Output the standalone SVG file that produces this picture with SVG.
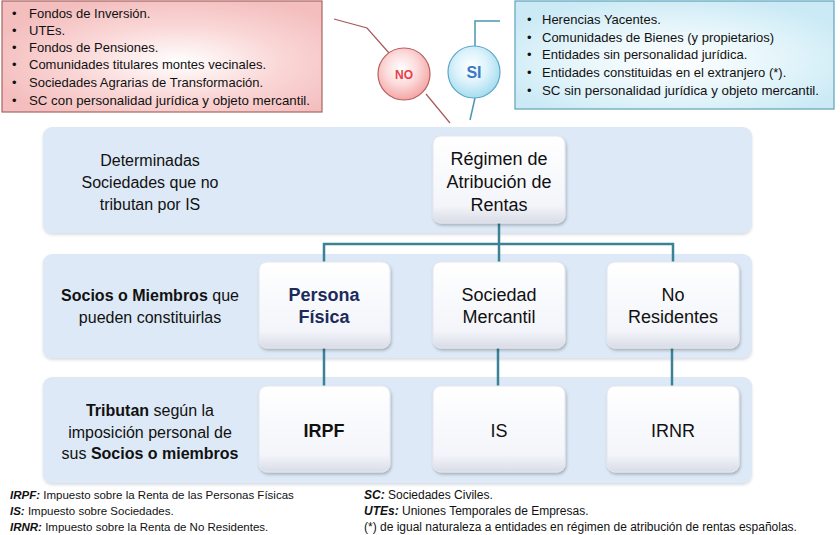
<svg xmlns="http://www.w3.org/2000/svg" width="840" height="535" viewBox="0 0 840 535">
<defs>
<radialGradient id="gRed" cx="0.55" cy="0.55" r="0.6">
<stop offset="0" stop-color="#ffffff"/><stop offset="0.55" stop-color="#fad6d6"/><stop offset="1" stop-color="#f4bebe"/>
</radialGradient>
<radialGradient id="gBlue" cx="0.5" cy="0.55" r="0.6">
<stop offset="0" stop-color="#ffffff"/><stop offset="0.6" stop-color="#e2f4fa"/><stop offset="1" stop-color="#cbeaf5"/>
</radialGradient>
<radialGradient id="gNo" cx="0.45" cy="0.4" r="0.6">
<stop offset="0" stop-color="#ffffff"/><stop offset="0.5" stop-color="#fcdcdc"/><stop offset="1" stop-color="#f4a6a6"/>
</radialGradient>
<radialGradient id="gSi" cx="0.45" cy="0.4" r="0.6">
<stop offset="0" stop-color="#ffffff"/><stop offset="0.5" stop-color="#def3fb"/><stop offset="1" stop-color="#a6dcf0"/>
</radialGradient>
<linearGradient id="gBox" x1="0" y1="0" x2="0" y2="1">
<stop offset="0" stop-color="#ffffff"/><stop offset="0.8" stop-color="#f3f5fa"/><stop offset="1" stop-color="#d9dce6"/>
</linearGradient>
<filter id="sh" x="-10%" y="-10%" width="120%" height="125%">
<feDropShadow dx="1" dy="2" stdDeviation="1.5" flood-color="#000" flood-opacity="0.25"/>
</filter>
<filter id="shb" x="-5%" y="-10%" width="110%" height="125%">
<feDropShadow dx="0" dy="2" stdDeviation="1.5" flood-color="#8090a0" flood-opacity="0.3"/>
</filter>
</defs>
<style>
text{font-family:"Liberation Sans",Arial,sans-serif;fill:#111}
.band{fill:#dde9f6;filter:url(#shb)}
.box{fill:url(#gBox);stroke:#e4e7ee;stroke-width:1;filter:url(#sh)}
.lbl{font-size:16px;text-anchor:middle}
.bt{font-size:18px;text-anchor:middle}
.li{font-size:13px}
.fn{font-size:11.5px}
.fn2{font-size:12px}
.conn{stroke:#3a8294;stroke-width:2.5;fill:none}
</style>

<g id="no-list">
<rect x="2" y="1" width="320" height="111" fill="url(#gRed)" stroke="#a86464" stroke-width="1.2"/>
<text class="li"><tspan x="12" y="18">•</tspan><tspan x="29" y="18">Fondos de Inversión.</tspan></text>
<text class="li"><tspan x="12" y="35">•</tspan><tspan x="29" y="35">UTEs.</tspan></text>
<text class="li"><tspan x="12" y="52">•</tspan><tspan x="29" y="52">Fondos de Pensiones.</tspan></text>
<text class="li"><tspan x="12" y="69">•</tspan><tspan x="29" y="69">Comunidades titulares montes vecinales.</tspan></text>
<text class="li"><tspan x="12" y="87">•</tspan><tspan x="29" y="87">Sociedades Agrarias de Transformación.</tspan></text>
<text class="li"><tspan x="12" y="105">•</tspan><tspan x="29" y="105" textLength="281" lengthAdjust="spacingAndGlyphs">SC con personalidad jurídica y objeto mercantil.</tspan></text>
</g>

<g id="si-list">
<rect x="515" y="1" width="319" height="108" fill="url(#gBlue)" stroke="#5ea2b8" stroke-width="1.2"/>
<text class="li"><tspan x="527" y="24">•</tspan><tspan x="542" y="24">Herencias Yacentes.</tspan></text>
<text class="li"><tspan x="527" y="42">•</tspan><tspan x="542" y="42">Comunidades de Bienes  (y propietarios)</tspan></text>
<text class="li"><tspan x="527" y="59">•</tspan><tspan x="542" y="59">Entidades sin personalidad jurídica.</tspan></text>
<text class="li"><tspan x="527" y="77">•</tspan><tspan x="542" y="77">Entidades constituidas en el extranjero (*).</tspan></text>
<text class="li"><tspan x="527" y="95">•</tspan><tspan x="542" y="95" textLength="277" lengthAdjust="spacingAndGlyphs">SC sin personalidad jurídica y objeto mercantil.</tspan></text>
</g>

<g id="connectors">
<polyline points="334,19 367,28 389,53" fill="none" stroke="#a85858" stroke-width="1.2"/>
<line x1="426" y1="94" x2="450" y2="123" stroke="#a85858" stroke-width="1.2"/>
<polyline points="500,21 475,21 475,46" fill="none" stroke="#4a98b0" stroke-width="1.5"/>
<line x1="475" y1="98" x2="470" y2="120" stroke="#4a98b0" stroke-width="1.5"/>
</g>

<g id="bands">
<rect x="43" y="127" width="709" height="106" rx="9" class="band"/>
<rect x="43" y="254" width="709" height="104" rx="9" class="band"/>
<rect x="43" y="377" width="709" height="106" rx="9" class="band"/>
</g>

<g id="tree-connectors">
<line class="conn" x1="499" y1="223" x2="499" y2="262"/>
<polyline class="conn" points="324,262 324,244 673,244 673,262"/>
<line class="conn" x1="324" y1="348" x2="324" y2="386"/>
<line class="conn" x1="498" y1="348" x2="498" y2="386"/>
<line class="conn" x1="672" y1="348" x2="672" y2="386"/>
</g>

<g id="no-circle">
<circle cx="404" cy="74" r="26" fill="url(#gNo)" stroke="#b86060" stroke-width="1.2"/>
<text x="404" y="79" text-anchor="middle" style="font-size:12px;font-weight:bold;fill:#e8404a">NO</text>
</g>
<g id="si-circle">
<circle cx="474" cy="72" r="26" fill="url(#gSi)" stroke="#5aa8c8" stroke-width="1.2"/>
<text x="474" y="78" text-anchor="middle" style="font-size:16px;font-weight:bold;fill:#3a78c8">SI</text>
</g>

<g id="row1-label">
<text class="lbl"><tspan x="150" y="166">Determinadas</tspan><tspan x="150" y="188">Sociedades que no</tspan><tspan x="150" y="210">tributan por IS</tspan></text>
</g>
<g id="regimen">
<rect x="433" y="136" width="132" height="87" rx="8" class="box"/>
<text class="bt"><tspan x="499" y="165">Régimen de</tspan><tspan x="499" y="188">Atribución de</tspan><tspan x="499" y="211">Rentas</tspan></text>
</g>

<g id="row2-label">
<text class="lbl"><tspan x="150" y="301"><tspan font-weight="bold">Socios o Miembros</tspan> que</tspan><tspan x="150" y="323">pueden constituirlas</tspan></text>
</g>
<g id="persona-fisica">
<rect x="259" y="262" width="131" height="86" rx="8" class="box"/>
<text class="bt" style="font-weight:bold;fill:#1c2a5c"><tspan x="324" y="301">Persona</tspan><tspan x="324" y="323">Física</tspan></text>
</g>
<g id="sociedad-mercantil">
<rect x="433" y="262" width="132" height="86" rx="8" class="box"/>
<text class="bt"><tspan x="499" y="301">Sociedad</tspan><tspan x="499" y="323">Mercantil</tspan></text>
</g>
<g id="no-residentes">
<rect x="607" y="262" width="132" height="86" rx="8" class="box"/>
<text class="bt"><tspan x="673" y="301">No</tspan><tspan x="673" y="323">Residentes</tspan></text>
</g>

<g id="row3-label">
<text class="lbl"><tspan x="150" y="416"><tspan font-weight="bold">Tributan</tspan> según la</tspan><tspan x="150" y="438">imposición personal de</tspan><tspan x="150" y="459">sus <tspan font-weight="bold">Socios o miembros</tspan></tspan></text>
</g>
<g id="irpf">
<rect x="259" y="386" width="131" height="86" rx="8" class="box"/>
<text x="324" y="437" class="bt" style="font-weight:bold">IRPF</text>
</g>
<g id="is">
<rect x="433" y="386" width="132" height="86" rx="8" class="box"/>
<text x="499" y="437" class="bt">IS</text>
</g>
<g id="irnr">
<rect x="607" y="386" width="132" height="86" rx="8" class="box"/>
<text x="673" y="437" class="bt">IRNR</text>
</g>

<g id="footnotes">
<text class="fn" x="10" y="499"><tspan font-weight="bold" font-style="italic">IRPF:</tspan> Impuesto sobre la Renta de las  Personas Físicas</text>
<text class="fn" x="10" y="515"><tspan font-weight="bold" font-style="italic">IS:</tspan> Impuesto sobre Sociedades.</text>
<text class="fn" x="10" y="531"><tspan font-weight="bold" font-style="italic">IRNR:</tspan> Impuesto sobre la Renta de No Residentes.</text>
<text class="fn2" x="364" y="499"><tspan font-weight="bold" font-style="italic">SC:</tspan> Sociedades Civiles.</text>
<text class="fn2" x="364" y="515"><tspan font-weight="bold" font-style="italic">UTEs:</tspan> Uniones Temporales de Empresas.</text>
<text class="fn2" x="364" y="531">(*)  de igual naturaleza a entidades en régimen de atribución de rentas españolas.</text>
</g>
</svg>
